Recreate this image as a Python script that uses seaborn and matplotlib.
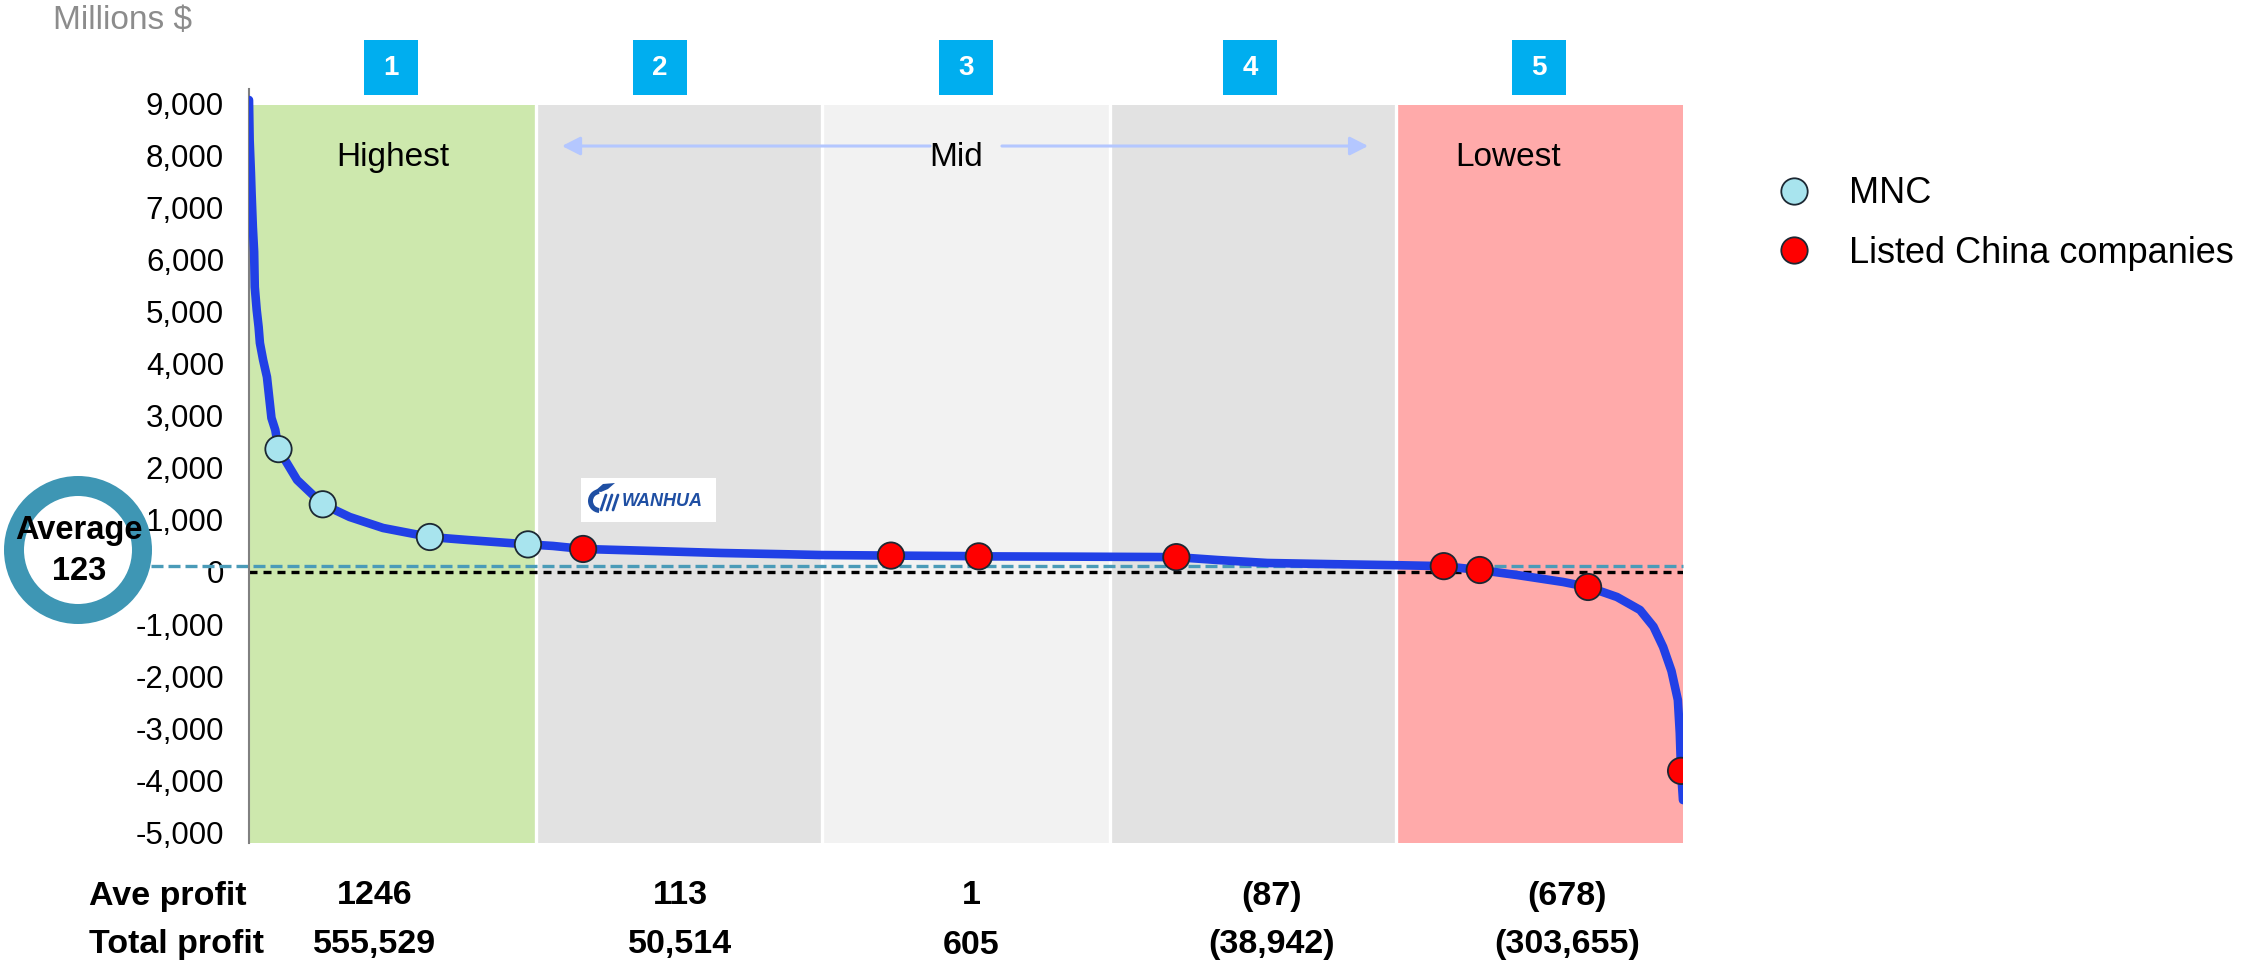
import matplotlib
matplotlib.use("Agg")
import matplotlib.pyplot as plt
import matplotlib.transforms as mtransforms
from matplotlib.patches import Rectangle, Ellipse, Wedge, Polygon
from matplotlib.lines import Line2D
from matplotlib.ticker import FuncFormatter, FixedLocator
import pandas as pd
import seaborn as sns

# ---- data -------------------------------------------------------------
# companies ranked by profit (rank along the x axis), profit in millions $
rank = [0, 1, 3, 4, 6, 8, 9, 12, 15, 17, 22, 28, 35, 41, 46, 75, 115, 157,
        209, 282, 340, 435, 474, 521, 631, 736, 839, 890, 1001, 1120, 1138,
        1276, 1405, 1446, 1510, 1588, 1691, 1791, 1863, 1919, 1977, 2049,
        2088, 2133, 2169, 2190, 2205, 2218, 2228, 2231, 2233, 2236]
profit = [9065, 8297, 7663, 7279, 6626, 6150, 5473, 5032, 4705, 4398, 4071,
          3745, 2958, 2727, 2360, 1767, 1300, 1056, 845, 672, 615, 530, 500,
          442, 403, 365, 340, 326, 315, 305, 300, 295, 288, 285, 230, 173,
          150, 130, 112, 38, -58, -192, -288, -480, -730, -1050, -1440,
          -1900, -2458, -3090, -3820, -4380]

mnc_rank = [46, 115, 282, 435]
mnc_profit = [2360, 1300, 672, 530]
cn_rank = [521, 1001, 1138, 1446, 1863, 1919, 2088, 2233]
cn_profit = [442, 315, 300, 285, 112, 38, -288, -3820]

average = 123
quintile_edges = [0, 447, 894, 1342, 1789, 2236]
quintile_ids = ["1", "2", "3", "4", "5"]
ave_profit = [1246, 113, 1, -87, -678]
total_profit = [555529, 50514, 605, -38942, -303655]
yticks = list(range(-5000, 9001, 1000))

series_names = ["MNC", "Listed China companies"]

# ---- style --------------------------------------------------------------
sns.set_style("white")
plt.rcParams["font.family"] = ["Liberation Sans", "DejaVu Sans"]
plt.rcParams["text.color"] = "black"
plt.rcParams["ytick.labelcolor"] = "black"

W, H = 2260, 969
fig = plt.figure(figsize=(W / 100, H / 100), dpi=100)
ax = fig.add_axes([249 / W, 1 - 843 / H, 1434 / W, (843 - 89) / H])
ax.set_xlim(0, 2236)
ax.set_ylim(-5205, 9276)

band_colors = ["#CDE8AD", "#E2E2E2", "#F2F2F2", "#E2E2E2", "#FFAAAA"]
band_top = 8970
ymin, ymax = ax.get_ylim()
top_frac = (band_top - ymin) / (ymax - ymin)
for i, c in enumerate(band_colors):
    ax.axvspan(quintile_edges[i], quintile_edges[i + 1], ymin=0, ymax=top_frac,
               color=c, lw=0, zorder=0)
for e in quintile_edges[1:-1]:
    ax.axvline(e, ymin=0, ymax=top_frac, color="white", lw=2.4, zorder=0.5)

# reference lines
ax.axhline(0, color="black", lw=2.4, ls=(0, (2.4, 1.8)), zorder=1)
ax.axhline(average, xmin=-0.068, xmax=1, color="#4A9BB8", lw=2.4,
           ls=(0, (3.6, 1.5)), zorder=1, clip_on=False)

# profit curve
sns.lineplot(x=rank, y=profit, ax=ax, color="#2140E6", lw=6.2,
             estimator=None, sort=False, zorder=3)

# highlighted companies
pts = pd.DataFrame({
    "rank": mnc_rank + cn_rank,
    "profit": mnc_profit + cn_profit,
    "type": [series_names[0]] * len(mnc_rank) + [series_names[1]] * len(cn_rank),
})
palette = {series_names[0]: "#A8E4EE", series_names[1]: "#FF0000"}
sns.scatterplot(data=pts, x="rank", y="profit", hue="type", palette=palette,
                s=360, edgecolor="#1C2833", linewidth=1.3, ax=ax, zorder=4,
                legend=False)

# axes cosmetics
for side in ["top", "right", "bottom"]:
    ax.spines[side].set_visible(False)
ax.spines["left"].set_color("#808080")
ax.spines["left"].set_linewidth(1.5)
ax.set_xticks([])
ax.yaxis.set_major_locator(FixedLocator(yticks))
ax.yaxis.set_major_formatter(FuncFormatter(lambda v, p: f"{int(v):,}"))
ax.tick_params(axis="y", direction="in", length=6, width=1.2, color="#808080",
               labelsize=22.5, pad=18, labelcolor="black")
ax.set_xlabel("")
ax.set_ylabel("")
ax.set_facecolor("white")

fig.text(53 / W, 1 - 20 / H, "Millions $", color="#8C8C8C", fontsize=24,
         ha="left", va="center")

# quintile number boxes
box_x = [221, 641, 1118, 1561, 2011]
blend = mtransforms.blended_transform_factory(ax.transData, fig.transFigure)
bw = 54 * 2236 / 1434
for x, lab in zip(box_x, quintile_ids):
    ax.add_patch(Rectangle((x - bw / 2, 1 - 95 / H), bw, 55 / H,
                           transform=blend, facecolor="#00AEEF", lw=0,
                           clip_on=False, zorder=5))
    ax.text(x, 1 - 68 / H, lab, transform=blend, color="white", fontsize=20,
            fontweight="bold", ha="center", va="center", zorder=6)

# zone captions
ax.text(225, 7970, "Highest", fontsize=24, ha="center", va="center", zorder=5)
ax.text(1102, 7970, "Mid", fontsize=24, ha="center", va="center", zorder=5)
ax.text(1963, 7970, "Lowest", fontsize=24, ha="center", va="center", zorder=5)
arrow_kw = dict(arrowstyle="-|>,head_length=0.55,head_width=0.28",
                color="#B4C7FF", lw=2.2, mutation_scale=20, shrinkA=0, shrinkB=0)
ax.annotate("", xy=(488, 8181), xytext=(1062, 8181), arrowprops=arrow_kw, zorder=5)
ax.annotate("", xy=(1745, 8181), xytext=(1174, 8181), arrowprops=arrow_kw, zorder=5)

# company logo tag
lax = fig.add_axes([581 / W, 1 - 522 / H, 135 / W, 44 / H])
lax.set_xlim(0, 135)
lax.set_ylim(0, 44)
lax.set_aspect("auto")
lax.axis("off")
lax.add_patch(Rectangle((0, 0), 135, 44, facecolor="white", lw=0))
blue = "#1F4FA3"
lax.add_patch(Wedge((19, 21), 12, 95, 265, width=5, facecolor=blue, lw=0))
lax.add_patch(Polygon([(14, 31), (22, 38), (34, 39), (27, 33), (20, 30)],
                      closed=True, facecolor=blue, lw=0))
for dx in (0, 6, 12):
    lax.plot([20 + dx, 25 + dx], [12, 27], color=blue, lw=2)
lax.text(41, 21, "WANHUA", color=blue, fontsize=13, fontweight="bold",
         fontstyle="italic", ha="left", va="center")

# average badge
fig.add_artist(Ellipse((78 / W, 1 - 550 / H), 128 / W, 128 / H,
                       facecolor="white", edgecolor="#3E96B4", lw=14.4,
                       transform=fig.transFigure, zorder=10))
fig.text(79 / W, 1 - 530 / H, "Average", fontsize=23.5, fontweight="bold",
         ha="center", va="center", zorder=11)
fig.text(79 / W, 1 - 571 / H, f"{average}", fontsize=23.5, fontweight="bold",
         ha="center", va="center", zorder=11)

# legend
handles = [Line2D([], [], ls="none", marker="o", markersize=19,
                  markerfacecolor=palette[n], markeredgecolor="#1C2833",
                  markeredgewidth=1.3) for n in series_names]
fig.legend(handles, series_names, loc="center left",
           bbox_to_anchor=((1794 - 18) / W, 1 - 223.5 / H), frameon=False,
           fontsize=26, handlelength=1.0, handletextpad=1.03,
           labelspacing=0.67, borderpad=0, borderaxespad=0)

# summary rows under the chart
def acct(v, sep):
    s = f"{abs(v):,}" if sep else f"{abs(v)}"
    return f"({s})" if v < 0 else s

col_x = [375, 680, 971, 1272, 1567]
fig.text(89 / W, 1 - 896 / H, "Ave profit", fontsize=24.5, fontweight="bold",
         ha="left", va="center")
fig.text(89 / W, 1 - 945 / H, "Total profit", fontsize=24.5, fontweight="bold",
         ha="left", va="center")
for x, a, t in zip(col_x, ave_profit, total_profit):
    fig.text(x / W, 1 - 896 / H, acct(a, False), fontsize=24.5,
             fontweight="bold", ha="center", va="center")
    fig.text(x / W, 1 - 945 / H, acct(t, True), fontsize=24.5,
             fontweight="bold", ha="center", va="center")

fig.savefig("out.png", dpi=100)
